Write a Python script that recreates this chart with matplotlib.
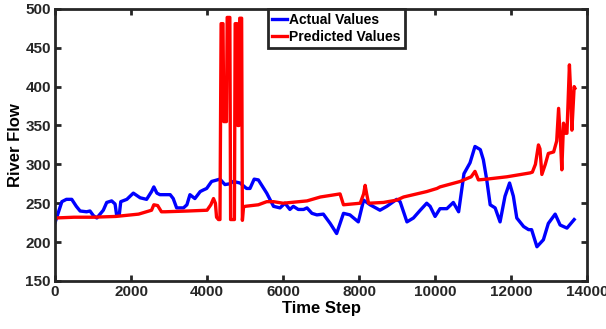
import numpy as np
import matplotlib.pyplot as plt

# Actual river flow (blue)
actual_x = [0, 100, 180, 300, 440, 560, 660, 830, 920, 1010, 1100, 1270, 1360, 1490,
            1580, 1620, 1690, 1730, 1890, 2060, 2240, 2410, 2540, 2600, 2680, 2760,
            3030, 3110, 3200, 3380, 3470, 3550, 3680, 3820, 3900, 3990, 4120, 4340,
            4470, 4600, 4690, 4870, 5040, 5130, 5240, 5350, 5570, 5750, 5920, 6050,
            6180, 6270, 6400, 6540, 6630, 6760, 6890, 7060, 7240, 7410, 7590, 7760,
            7980, 8120, 8290, 8550, 8730, 8990, 9080, 9260, 9430, 9610, 9780, 9870,
            10000, 10130, 10310, 10480, 10620, 10760, 10920, 11050, 11190, 11270,
            11360, 11450, 11580, 11710, 11840, 11960, 12060, 12150, 12330, 12460,
            12540, 12680, 12850, 12980, 13160, 13290, 13470, 13660]
actual_y = [225, 240, 252, 255, 255, 246, 240, 239, 240, 234, 231, 241, 251, 253,
            249, 235, 235, 252, 255, 263, 257, 255, 265, 271, 263, 261,
            261, 256, 244, 244, 248, 261, 256, 265, 267, 269, 278, 281,
            274, 275, 278, 276, 269, 269, 281, 280, 263, 246, 244, 250,
            242, 246, 242, 242, 244, 237, 235, 236, 224, 211, 237, 235,
            226, 254, 248, 241, 246, 255, 252, 226, 231, 241, 250, 246,
            233, 243, 243, 251, 239, 288, 302, 323, 319, 306,
            280, 248, 244, 226, 259, 276, 259, 231, 220, 216,
            216, 194, 203, 224, 236, 222, 218, 229]

# Predicted river flow (red)
pred_x = [0, 500, 1000, 1600, 2200, 2540, 2600, 2700, 2800, 2900, 3500, 4000, 4100,
          4170, 4220, 4250, 4300, 4340, 4370, 4420, 4440, 4510, 4530, 4600, 4620,
          4720, 4740, 4790, 4810, 4840, 4860, 4910, 4930, 4960, 5000, 5350, 5570,
          5750, 6000, 6630, 6980, 7500, 7590, 8030, 8120, 8160, 8200, 8250, 8640,
          8990, 9170, 9780, 10050, 10130, 10660, 10950, 11050, 11140, 11360, 11890,
          12500, 12560, 12640, 12720, 12760, 12810, 12900, 12980, 13120, 13200,
          13250, 13300, 13335, 13380, 13430, 13470, 13535, 13570, 13600, 13660, 13680]
pred_y = [231, 232, 232, 233, 236, 241, 248, 247, 239, 239, 240, 241, 248,
          256, 250, 232, 229, 229, 481, 481, 355, 355, 489, 489, 229,
          229, 481, 481, 350, 350, 488, 488, 228, 245, 246, 248, 252,
          252, 250, 253, 258, 262, 248, 250, 262, 273, 262, 250, 251,
          254, 258, 265, 269, 271, 278, 284, 291, 280, 281, 284,
          289, 290, 300, 325, 320, 287, 300, 314, 316, 330,
          372, 330, 293, 353, 340, 340, 428, 390, 344, 400, 398]

plt.rcParams['font.family'] = ['Liberation Sans', 'DejaVu Sans']
plt.rcParams['font.weight'] = 'bold'

fig = plt.figure(figsize=(6.06, 3.29), dpi=100)
ax = fig.add_axes([0.0908, 0.146, 0.878, 0.827])

ax.plot(actual_x, actual_y, color='#0000ff', linewidth=2.4, label='Actual Values')
ax.plot(pred_x, pred_y, color='#ff0000', linewidth=2.4, label='Predicted Values')

ax.set_xlim(0, 14000)
ax.set_ylim(150, 500)
ax.set_xticks(np.arange(0, 14001, 2000))
ax.set_yticks(np.arange(150, 501, 50))

# matlab-like box with inward ticks on every side
for s in ax.spines.values():
    s.set_linewidth(2.0)
    s.set_color('#262626')
ax.tick_params(direction='in', length=4, width=2, top=True, right=True,
               labelsize=11, colors='#262626', pad=3)
for lab in ax.get_xticklabels() + ax.get_yticklabels():
    lab.set_fontweight('bold')

ax.set_xlabel('Time Step', fontsize=12, fontweight='bold', labelpad=1)
ax.set_ylabel('River Flow', fontsize=12, fontweight='bold', labelpad=2)

leg = ax.legend(loc='upper left', bbox_to_anchor=(0.40, 1.0), fontsize=10,
                handlelength=1.1, handletextpad=0.15, borderpad=0.3,
                labelspacing=0.2, borderaxespad=0, fancybox=False, framealpha=1)
leg.get_frame().set_edgecolor('#262626')
leg.get_frame().set_linewidth(2.0)
for t in leg.get_texts():
    t.set_fontweight('bold')

fig.savefig('out.png', dpi=100)
